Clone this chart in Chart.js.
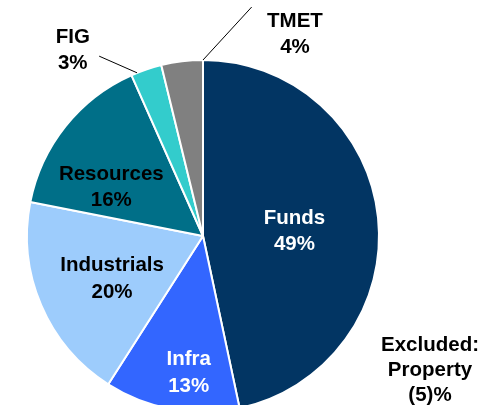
<!DOCTYPE html>
<html>
<head>
<meta charset="utf-8">
<script src="https://cdn.jsdelivr.net/npm/chart.js@4"></script>
<style>
  html, body { margin:0; padding:0; background:#fff; overflow:hidden; }
  #wrap { position:relative; width:500px; height:420px; }
</style>
</head>
<body>
<div id="wrap"><canvas id="chPie" width="500" height="420"></canvas></div>
<script>
// sectors and their share (%)
var sectors = ['Funds', 'Infra', 'Industrials', 'Resources', 'FIG', 'TMET'];
var shares = [49, 13, 20, 16, 3, 4];
var colors = ['#023563', '#3366FF', '#9DCCFC', '#006F88', '#33CCCC', '#808080'];
var textColors = ['#fff', '#fff', '#000', '#000', '#000', '#000'];

// label placement: [angle from 12 o'clock in deg, radius fraction]
var labelPos = [[87, 0.52], [186, 0.78], [245, 0.57], [298, 0.59], [325, 1.29], [24.5, 1.26]];
// leader lines: [angle, radius fraction] -> [angle, radius fraction]
var leaders = [[338, 1.0, 330, 1.18], [0, 1.0, 12, 1.33]];
var note = ['Excluded:', 'Property', '(5)%'];

var FONT = 'bold 20.5px "Liberation Sans", Arial, sans-serif';

function polar(meta, deg, frac) {
  var a = (deg - 90) * Math.PI / 180;
  var r = meta.outerRadius * frac;
  return {x: meta.x + Math.cos(a) * r, y: meta.y + Math.sin(a) * r};
}

var pieLabels = {
  id: 'pieLabels',
  afterDraw: function(chart) {
    var ctx = chart.ctx;
    var arcs = chart.getDatasetMeta(0).data;
    var c = arcs[0];
    ctx.save();
    ctx.font = FONT;
    ctx.textAlign = 'center';
    ctx.textBaseline = 'middle';
    arcs.forEach(function(arc, i) {
      var p = polar(c, labelPos[i][0], labelPos[i][1]);
      ctx.fillStyle = textColors[i];
      ctx.fillText(sectors[i], p.x, p.y - 13);
      ctx.fillText(shares[i] + '%', p.x, p.y + 13.5);
    });
    ctx.strokeStyle = '#000';
    ctx.lineWidth = 1;
    leaders.forEach(function(l) {
      var a = polar(c, l[0], l[1]);
      var b = polar(c, l[2], l[3]);
      ctx.beginPath();
      ctx.moveTo(a.x, a.y);
      ctx.lineTo(b.x, b.y);
      ctx.stroke();
    });
    ctx.fillStyle = '#000';
    note.forEach(function(t, i) {
      ctx.fillText(t, 430, 345 + i * 25);
    });
    ctx.restore();
  }
};

var chPie = document.getElementById('chPie');
if (chPie) {
  new Chart(chPie, {
    type: 'pie',
    data: {
      labels: sectors,
      datasets: [{
        data: shares,
        backgroundColor: colors,
        borderColor: '#fff',
        borderWidth: 2
      }]
    },
    options: {
      responsive: false,
      animation: false,
      layout: {padding: {left: 26, right: 120, top: 59, bottom: 7}},
      plugins: {legend: {display: false}, tooltip: {enabled: false}}
    },
    plugins: [pieLabels]
  });
}
</script>
</body>
</html>
